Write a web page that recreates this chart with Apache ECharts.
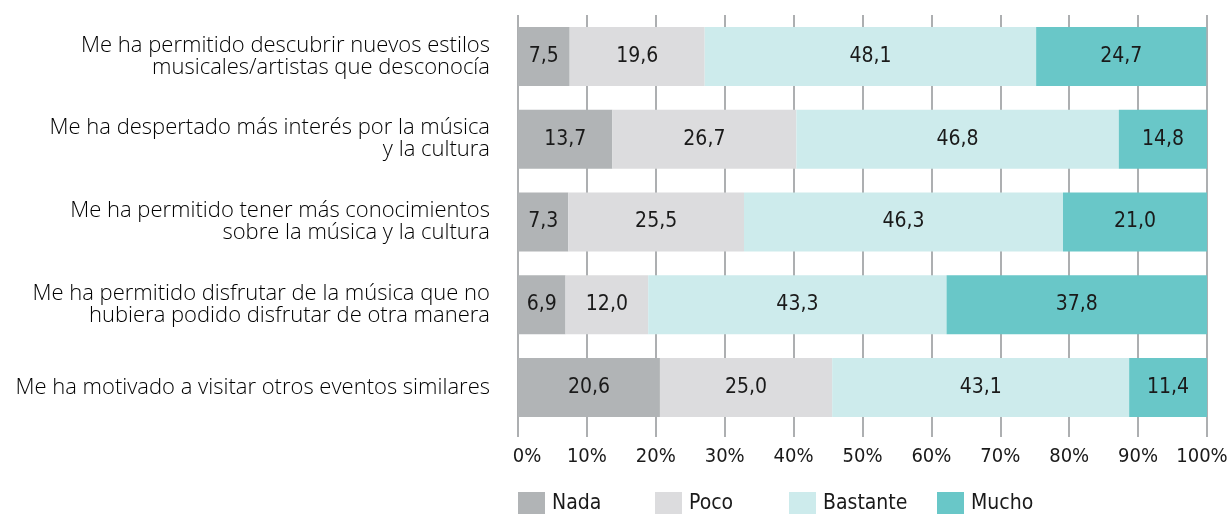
<!DOCTYPE html>
<html>
<head>
<meta charset="utf-8">
<script src="https://cdn.jsdelivr.net/npm/echarts@6/dist/echarts.min.js"></script>
<style>
html,body{margin:0;padding:0;background:#fff;overflow:hidden;}
#chart{width:1229px;height:514px;}
</style>
</head>
<body>
<div id="chart"></div>
<script>
const categories = [
  "Me ha permitido descubrir nuevos estilos\nmusicales/artistas que desconocía",
  "Me ha despertado más interés por la música\ny la cultura",
  "Me ha permitido tener más conocimientos\nsobre la música y la cultura",
  "Me ha permitido disfrutar de la música que no\nhubiera podido disfrutar de otra manera",
  "Me ha motivado a visitar otros eventos similares"
];
const seriesNames = ["Nada", "Poco", "Bastante", "Mucho"];
const nada = [7.5, 13.7, 7.3, 6.9, 20.6];
const poco = [19.6, 26.7, 25.5, 12.0, 25.0];
const bastante = [48.1, 46.8, 46.3, 43.3, 43.1];
const mucho = [24.7, 14.8, 21.0, 37.8, 11.4];
const xTicks = [0, 10, 20, 30, 40, 50, 60, 70, 80, 90, 100];

const colors = ["#b1b4b6", "#dcdcde", "#cdebec", "#69c7c8"];
const values = [nada, poco, bastante, mucho];
const condensed = "'Liberation Sans Narrow', 'DejaVu Sans Condensed', 'Roboto Condensed', sans-serif";
const humanist = "'Open Sans', 'Noto Sans', sans-serif";

const chart = echarts.init(document.getElementById('chart'), null, {renderer: 'canvas', width: 1229, height: 514});

const series = seriesNames.map((name, i) => ({
  name: name,
  type: 'bar',
  stack: 'total',
  barWidth: 59,
  itemStyle: {color: colors[i]},
  label: {
    show: true,
    position: 'inside',
    color: '#1a1a1a',
    fontFamily: condensed,
    fontSize: 21,
    formatter: p => p.value.toFixed(1).replace('.', ',')
  },
  emphasis: {disabled: true},
  data: values[i]
}));

const legendLefts = [518, 655, 789, 937];
const legends = seriesNames.map((name, i) => ({
  data: [name],
  left: legendLefts[i],
  top: 492,
  padding: 0,
  itemWidth: 27,
  itemHeight: 23,
  itemGap: 0,
  icon: 'rect',
  textStyle: {fontFamily: condensed, fontSize: 21, color: '#1a1a1a', padding: [0,0,0,2]},
  selectedMode: false
}));

const tickStyle = {fontFamily: condensed, fontSize: 20, color: '#1a1a1a'};

chart.setOption({
  animation: false,
  backgroundColor: '#fff',
  grid: {left: 518, width: 689, top: 15, height: 414, containLabel: false, outerBoundsMode: 'none'},
  legend: legends,
  xAxis: {
    type: 'value',
    min: 0,
    max: 100,
    interval: 10,
    axisLine: {show: false},
    axisTick: {show: true, length: 8, lineStyle: {color: '#adafb1', width: 2}},
    splitLine: {show: true, lineStyle: {color: '#adafb1', width: 2}},
    axisLabel: {
      margin: 18,
      fontFamily: condensed,
      fontSize: 20,
      color: '#1a1a1a',
      formatter: v => {
        if (!xTicks.includes(v)) return '';
        if (v === 0) return '{first|' + v + '%}';
        if (v === 100) return '{last|' + v + '%}';
        return v + '%';
      },
      rich: {
        first: Object.assign({padding: [0, 0, 0, 18]}, tickStyle),
        last: Object.assign({padding: [0, 10, 0, 0]}, tickStyle)
      }
    }
  },
  yAxis: {
    type: 'category',
    data: categories,
    inverse: true,
    axisLine: {show: false},
    axisTick: {show: false},
    axisLabel: {
      margin: 28,
      fontFamily: humanist,
      fontWeight: 300,
      fontSize: 22,
      lineHeight: 22,
      color: '#000',
      align: 'right'
    }
  },
  series: series
});
</script>
</body>
</html>
